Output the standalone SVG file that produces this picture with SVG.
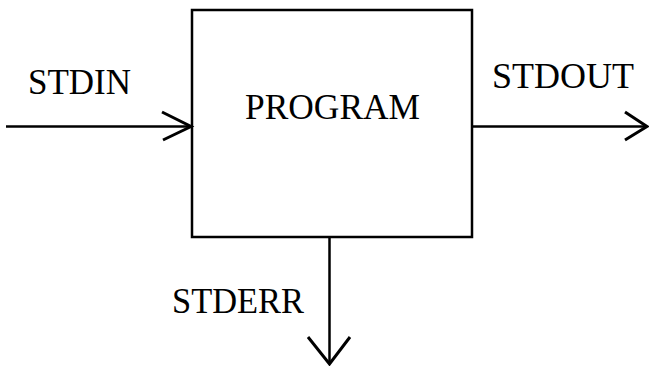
<svg xmlns="http://www.w3.org/2000/svg" width="649" height="366" viewBox="0 0 649 366">
  <style>
    .ln { fill: none; stroke: #000; stroke-width: 2.5; stroke-linecap: butt; stroke-linejoin: miter; }
    .hd { fill: none; stroke: #000; stroke-width: 3; stroke-linecap: butt; stroke-linejoin: miter; }
    .lbl { font-family: "Liberation Serif", "Times New Roman", serif; font-size: 36px; fill: #000; }
  </style>
  <rect width="649" height="366" fill="#fff"/>

  <!-- the program block -->
  <g id="program">
    <rect class="ln" x="192" y="10" width="280" height="227"/>
    <text class="lbl" x="245" y="119" textLength="175" lengthAdjust="spacingAndGlyphs">PROGRAM</text>
  </g>

  <!-- stream labels -->
  <g id="stdin">
    <text class="lbl" x="28" y="94" textLength="103" lengthAdjust="spacingAndGlyphs">STDIN</text>
  </g>
  <g id="stdout">
    <text class="lbl" x="492" y="88" textLength="142" lengthAdjust="spacingAndGlyphs">STDOUT</text>
  </g>
  <g id="stderr">
    <text class="lbl" x="172" y="313" textLength="132" lengthAdjust="spacingAndGlyphs">STDERR</text>
  </g>

  <!-- connectors with open arrowheads -->
  <g id="connectors">
    <line class="ln" x1="6" y1="126.5" x2="192" y2="126.5"/>
    <polyline class="hd" points="162,112 191,126.5 163,140"/>

    <line class="ln" x1="472" y1="126.5" x2="647" y2="126.5"/>
    <polyline class="hd" points="625,112 647,126.5 625,140"/>

    <line class="ln" x1="329.5" y1="237" x2="329.5" y2="364"/>
    <polyline class="hd" points="308,337 329.5,364 350,337"/>
  </g>
</svg>
